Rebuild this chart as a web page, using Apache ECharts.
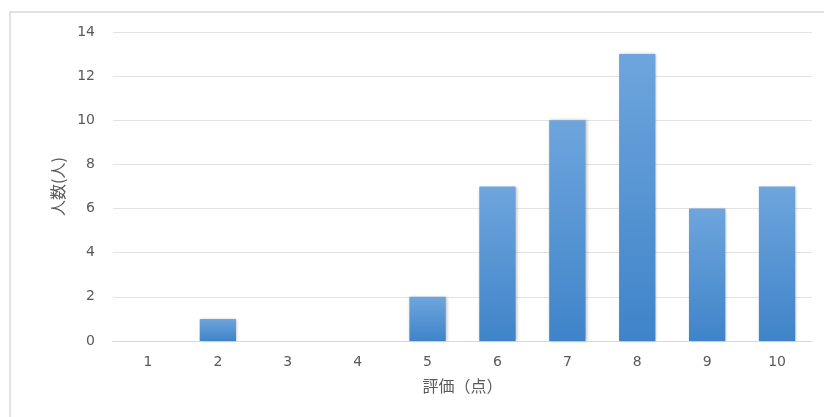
<!DOCTYPE html>
<html>
<head>
<meta charset="utf-8">
<style>
  html, body { margin: 0; padding: 0; background: #ffffff; }
  #chart { width: 824px; height: 417px; }
</style>
<script src="https://cdn.jsdelivr.net/npm/echarts@6/dist/echarts.min.js"></script>
</head>
<body>
<div id="chart"></div>
<script>
// Ratings 1–10 and number of people who gave each rating
const ratings = ['1', '2', '3', '4', '5', '6', '7', '8', '9', '10'];
const counts = [0, 1, 0, 0, 2, 7, 10, 13, 6, 7];
const yTicks = { min: 0, max: 14, step: 2 };
const xTitle = '評価（点）';
const yTitle = '人数(人)';

const chart = echarts.init(document.getElementById('chart'), null, { renderer: 'canvas' });
const cjkFont = '"Noto Sans CJK JP", "Noto Sans", sans-serif';
const numFont = '"DejaVu Sans", "Noto Sans", sans-serif';

chart.setOption({
  animation: false,
  backgroundColor: '#ffffff',
  graphic: [{
    type: 'rect',
    shape: { x: 10, y: 12, width: 840, height: 430 },
    style: { fill: 'none', stroke: '#d9d9d9', lineWidth: 1.5 },
    silent: true
  }],
  grid: { left: 113, right: 12, top: 32, bottom: 76 },
  xAxis: {
    type: 'category',
    data: ratings,
    name: xTitle,
    nameLocation: 'middle',
    nameGap: 37,
    nameTextStyle: { color: '#595959', fontSize: 16, fontFamily: cjkFont },
    axisLine: { show: true, lineStyle: { color: '#d9d9d9', width: 1 } },
    axisTick: { show: false },
    axisLabel: { color: '#595959', fontSize: 14, margin: 14, fontFamily: numFont }
  },
  yAxis: {
    type: 'value',
    min: yTicks.min,
    max: yTicks.max,
    interval: yTicks.step,
    name: yTitle,
    nameLocation: 'middle',
    nameGap: 44,
    nameRotate: 90,
    nameTextStyle: { color: '#595959', fontSize: 16, fontFamily: cjkFont },
    axisLine: { show: false },
    axisTick: { show: false },
    axisLabel: { color: '#595959', fontSize: 14, margin: 18, fontFamily: numFont },
    splitLine: { lineStyle: { color: '#e3e3e3', width: 1 } }
  },
  series: [{
    type: 'bar',
    data: counts,
    barWidth: '52%',
    itemStyle: {
      color: new echarts.graphic.LinearGradient(0, 0, 0, 1, [
        { offset: 0, color: '#6ea5dd' },
        { offset: 1, color: '#3f84c9' }
      ]),
      shadowColor: 'rgba(0,0,0,0.25)',
      shadowBlur: 3,
      shadowOffsetX: 1,
      shadowOffsetY: 0
    }
  }]
});
</script>
</body>
</html>
